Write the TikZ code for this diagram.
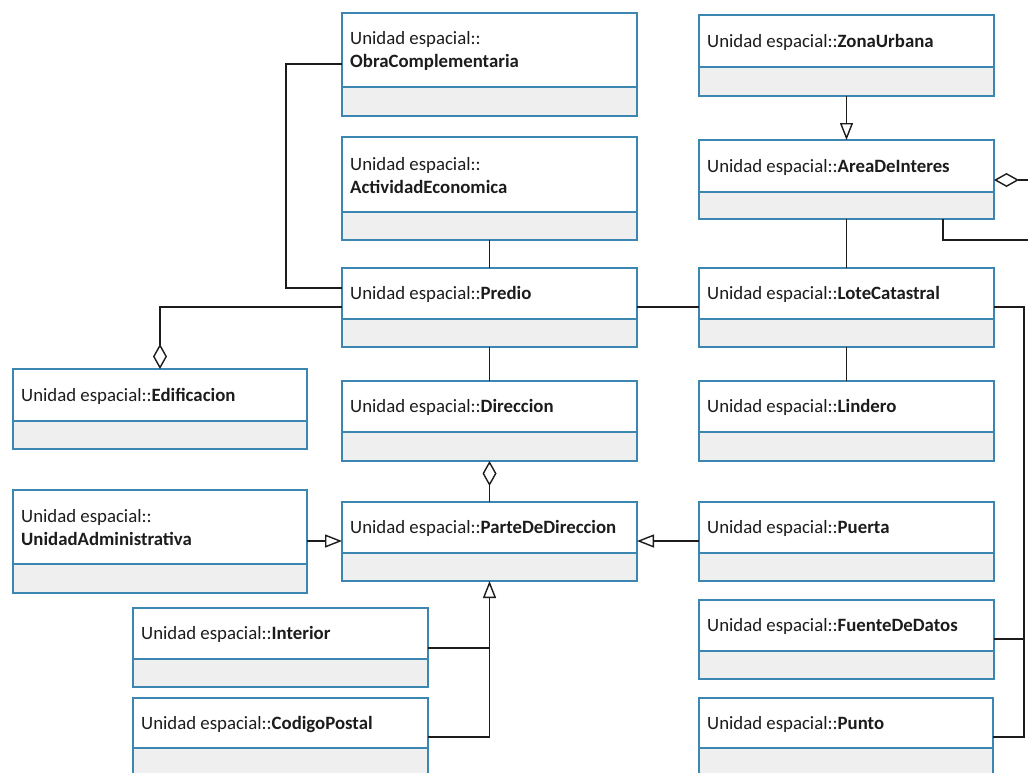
\documentclass[tikz,border=0pt]{standalone}
\usepackage{fontspec}
\setmainfont{Carlito}
\usetikzlibrary{arrows.meta,calc}

\definecolor{boxblue}{HTML}{3C86B2}
\definecolor{boxgray}{HTML}{EFEFEF}
\definecolor{inkcol}{HTML}{1C1C1C}

% UML class: #1 name, #2 left, #3 top, #4 right, #5 divider, #6 bottom, #7 label
\newcommand\umlclass[7]{%
  \fill[boxgray] (#2,#5) rectangle (#4,#6);
  \node[classbox, minimum width={(#4-#2)*1pt}, minimum height={(#6-#3)*1pt}]
    (#1) at (#2,#3) {};
  \draw[divider] (#2,#5) -- (#4,#5);
  \node[classtext] (#1-label) at ({#2+8},{(#3+#5)/2+1}) {#7};
}

\begin{document}
\begin{tikzpicture}[x=1pt,y=-1pt,
  classbox/.style={draw=boxblue, line width=1.4pt, anchor=north west,
    inner sep=0pt, outer sep=0pt},
  divider/.style={draw=boxblue, line width=1.4pt},
  classtext/.style={anchor=west, align=left, inner sep=0pt, text=inkcol,
    font=\fontsize{18.8}{23}\selectfont},
  conn/.style={draw=inkcol, line width=1.4pt},
  gen/.style={conn, -{Triangle[open, length=17pt, width=13pt]}},
  aggr/.style={conn, -{Diamond[open, length=25pt, width=14pt]}}]

\fill[white] (0,0) rectangle (1028,772);
\useasboundingbox (0,0) rectangle (1028,772);
\clip (0,0) rectangle (1028,772);

% classes
\umlclass{obra}{342}{13}{637}{87}{116}{Unidad espacial::\\\textbf{ObraComplementaria}}
\umlclass{activ}{342}{137}{637}{212}{240}{Unidad espacial::\\\textbf{ActividadEconomica}}
\umlclass{zona}{699}{15}{994}{67}{96}{Unidad espacial::\textbf{ZonaUrbana}}
\umlclass{area}{699}{140}{994}{192}{219}{Unidad espacial::\textbf{AreaDeInteres}}
\umlclass{predio}{342}{268}{637}{319}{347}{Unidad espacial::\textbf{Predio}}
\umlclass{lote}{699}{268}{994}{319}{347}{Unidad espacial::\textbf{LoteCatastral}}
\umlclass{edif}{13}{369}{307}{421}{449}{Unidad espacial::\textbf{Edificacion}}
\umlclass{direc}{342}{381}{637}{432}{461}{Unidad espacial::\textbf{Direccion}}
\umlclass{lind}{699}{381}{994}{432}{461}{Unidad espacial::\textbf{Lindero}}
\umlclass{unadm}{13}{490}{307}{564}{593}{Unidad espacial::\\\textbf{UnidadAdministrativa}}
\umlclass{parte}{342}{502}{637}{553}{581}{Unidad espacial::\textbf{ParteDeDireccion}}
\umlclass{puerta}{699}{502}{994}{553}{581}{Unidad espacial::\textbf{Puerta}}
\umlclass{inter}{133}{608}{428}{659}{687}{Unidad espacial::\textbf{Interior}}
\umlclass{fuente}{699}{600}{994}{651}{679}{Unidad espacial::\textbf{FuenteDeDatos}}
\umlclass{codigo}{133}{698}{428}{748}{777}{Unidad espacial::\textbf{CodigoPostal}}
\umlclass{punto}{699}{698}{993}{748}{777}{Unidad espacial::\textbf{Punto}}

% free ends leaving the right border
\coordinate (areaOutA) at (1030,180);
\coordinate (areaOutB) at (1030,240);

% associations
\draw[conn] ($(obra.north west)+(0,51)$) -- ++(-56,0) |- ($(predio.north west)+(0,20)$);
\draw[conn] (activ.south) -- (predio.north);
\draw[conn] ($(predio.north east)+(0,39)$) -- ($(lote.north west)+(0,39)$);
\draw[conn] (predio.south) -- (direc.north);
\draw[conn] (area.south) -- (lote.north);
\draw[conn] (lote.south) -- (lind.north);
\draw[conn] ($(area.south west)+(244,0)$) |- (areaOutB);
\draw[conn] ($(lote.north east)+(0,39)$) -- ++(30,0) |- ($(punto.north east)+(0,39)$);
\draw[conn] ($(fuente.north east)+(0,39)$) -- ++(30,0);

% aggregations
\draw[aggr] ($(predio.north west)+(0,39)$) -| (edif.north);
\draw[aggr] (parte.north) -- (direc.south);
\draw[aggr] (areaOutA) -- ($(area.north east)+(0,40)$);

% generalizations
\draw[gen] (zona.south) -- (area.north);
\draw[gen] ($(unadm.north east)+(0,51)$) -- ($(parte.north west)+(0,39)$);
\draw[gen] ($(puerta.north west)+(0,39)$) -- ($(parte.north east)+(0,39)$);
\draw[gen] ($(codigo.north east)+(0,39)$) -| (parte.south);
\coordinate (interJoin) at ($(inter.north east)+(0,40)$);
\draw[conn] (interJoin) -- (interJoin -| parte.south);

\end{tikzpicture}
\end{document}
